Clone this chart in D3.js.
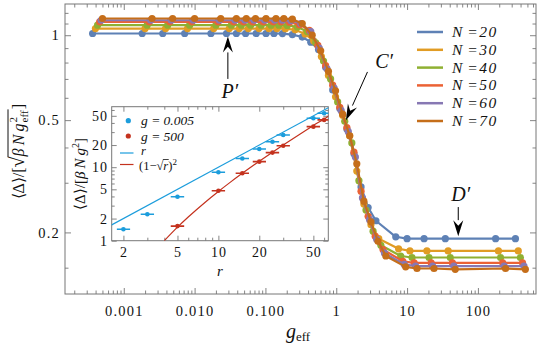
<!DOCTYPE html>
<html><head><meta charset="utf-8">
<script src="https://cdn.jsdelivr.net/npm/d3@7"></script>
<style>body{margin:0;background:#fff}svg{display:block}</style>
</head><body><svg id="c" width="540" height="348"></svg>
<script>
// ---------------- DATA ----------------
const seriesN = [20, 30, 40, 50, 60, 70];
const seriesColors = ["#5E81B5", "#E19C24", "#8FB032", "#EB6235", "#8778B3", "#C56E1A"];

const gEff20 = [0.000363,0.00182,0.00355,0.00724,0.0170,0.0282,0.0389,0.0525,0.0741,0.102,0.132,0.174,0.240,0.331,0.437,0.562,0.708,0.891,1.122,1.413,1.778,2.239,2.818,3.631,6.918,10.0,17.38,34.67,177.8,338.8];
const delta20 = [1.014,1.014,1.014,1.014,1.014,1.014,1.014,1.014,1.014,1.014,1.014,1.013,1.005,0.985,0.945,0.89,0.77,0.64,0.55,0.465,0.38,0.29,0.245,0.22,0.193,0.19,0.19,0.19,0.19,0.19];

const gEff30 = [0.000398,0.00200,0.00389,0.00794,0.0186,0.0309,0.0427,0.0575,0.0813,0.112,0.145,0.191,0.263,0.363,0.479,0.617,0.776,0.977,1.230,1.549,1.950,2.455,3.090,3.981,7.586,10.96,19.05,38.02,195.0,371.5];
const delta30 = [1.056,1.056,1.056,1.056,1.056,1.056,1.056,1.056,1.056,1.056,1.056,1.055,1.045,1.01,0.955,0.84,0.72,0.605,0.52,0.44,0.33,0.252,0.213,0.19,0.175,0.172,0.172,0.172,0.172,0.172];

const gEff40 = [0.000427,0.00214,0.00417,0.00851,0.0200,0.0331,0.0457,0.0617,0.0871,0.120,0.155,0.204,0.282,0.389,0.513,0.661,0.832,1.047,1.318,1.660,2.089,2.630,3.311,4.266,8.128,11.75,20.42,40.74,208.9,398.1];
const delta40 = [1.085,1.085,1.085,1.085,1.085,1.085,1.085,1.085,1.085,1.085,1.085,1.083,1.07,1.03,0.94,0.81,0.70,0.58,0.495,0.415,0.305,0.24,0.202,0.18,0.165,0.163,0.163,0.163,0.163,0.163];

const gEff50 = [0.000457,0.00229,0.00447,0.00912,0.0214,0.0355,0.0490,0.0661,0.0933,0.129,0.166,0.219,0.302,0.417,0.550,0.708,0.891,1.122,1.413,1.778,2.239,2.818,3.548,4.571,8.710,12.59,21.88,43.65,223.9,426.6];
const delta50 = [1.115,1.115,1.115,1.115,1.115,1.115,1.115,1.115,1.115,1.115,1.115,1.112,1.09,1.04,0.92,0.78,0.665,0.555,0.47,0.385,0.28,0.228,0.194,0.174,0.158,0.156,0.156,0.156,0.156,0.156];

const gEff60 = [0.000479,0.00240,0.00468,0.00955,0.0224,0.0372,0.0513,0.0692,0.0977,0.135,0.174,0.229,0.316,0.437,0.575,0.741,0.933,1.175,1.479,1.862,2.344,2.951,3.715,4.786,9.120,13.18,22.91,45.71,234.4,446.7];
const delta60 = [1.13,1.13,1.13,1.13,1.13,1.13,1.13,1.13,1.13,1.13,1.13,1.127,1.10,1.03,0.90,0.76,0.65,0.54,0.455,0.37,0.265,0.222,0.189,0.169,0.154,0.152,0.152,0.152,0.152,0.152];

const gEff70 = [0.000501,0.00251,0.00490,0.0100,0.0234,0.0389,0.0537,0.0724,0.102,0.141,0.182,0.240,0.331,0.457,0.603,0.776,0.977,1.230,1.549,1.950,2.455,3.090,3.890,5.012,9.550,13.80,23.99,47.86,245.5,467.7];
const delta70 = [1.146,1.146,1.146,1.146,1.146,1.146,1.146,1.146,1.146,1.146,1.146,1.14,1.10,1.0,0.88,0.745,0.635,0.525,0.44,0.35,0.258,0.218,0.186,0.165,0.151,0.149,0.149,0.148,0.149,0.148];

const xTickVals = [0.001, 0.01, 0.1, 1, 10, 100];
const xTickLabels = ["0.001", "0.010", "0.100", "1", "10", "100"];
const yTickVals = [0.2, 0.5, 1];
const yTickLabels = ["0.2", "0.5", "1"];
const yMinorVals = [0.15, 0.3, 0.4, 0.6, 0.7, 0.8, 0.9, 1.1, 1.2];

// inset data
const rBlue = [2, 3, 5, 10, 15, 20, 25, 30, 50, 60];
const rBlueLo = [1.79, 2.68, 4.46, 8.93, 13.4, 17.9, 22.3, 26.8, 44.6, 53.6];
const rBlueHi = [2.24, 3.36, 5.6, 11.2, 16.8, 22.4, 28.0, 33.6, 56.0, 67.2];
const deltaBlue = [1.43, 2.29, 3.97, 8.52, 13.1, 17.7, 22.2, 27.4, 46.3, 54.1];
const rRed = [5, 10, 15, 20, 25, 30, 50, 60];
const rRedLo = [4.46, 8.93, 13.4, 17.9, 22.3, 26.8, 44.6, 53.6];
const rRedHi = [5.6, 11.2, 16.8, 22.4, 28.0, 33.6, 56.0, 67.2];
const deltaRed = [1.58, 4.79, 8.26, 11.9, 15.8, 19.6, 35.6, 44.0];
const rLineR = [1.5, 70];
const lineR = [1.5, 70];
const rLineSq = [4, 5, 6, 8, 10, 12, 15, 20, 25, 30, 40, 50, 64, 70];
const lineSq = [1.0, 1.528, 2.101, 3.343, 4.675, 6.072, 8.254, 12.056, 16.0, 20.045, 28.351, 36.858, 49.0, 55.27];
const insetXTicks = [2, 5, 10, 20, 50];
const insetYTicks = [1, 2, 5, 10, 20, 50];
const insetBlue = "#1C9DDC", insetRed = "#C4321E";

// ---------------- LAYOUT ----------------
const svg = d3.select("#c");
const numFont = "Liberation Serif, serif";
const mathFont = "Liberation Serif, serif";
const P = {l: 65, r: 536, t: 4, b: 294};
const x = d3.scaleLog().domain([0.000148, 661]).range([P.l, P.r]);
const y = d3.scaleLog().domain([0.121, 1.29]).range([P.b, P.t]);

function minorDecades(lo, hi) {
  const out = [];
  for (let e = lo; e <= hi; e++) for (let m = 2; m <= 9; m++) out.push(m * Math.pow(10, e));
  return out;
}
function styleAxis(g, fs, ls) {
  g.select(".domain").remove();
  g.selectAll("line").attr("stroke", "#666").attr("stroke-width", 0.8);
  g.attr("font-family", numFont).attr("font-size", fs);
  g.selectAll("text").attr("fill", "#111").attr("letter-spacing", ls);
}
function drawAxes(xs, ys, box, xMaj, xLab, xMin, yMaj, yLab, yMin, majLen, minLen, fs, ls, xPad, yPad) {
  const W = box.r - box.l, H = box.b - box.t;
  let g;
  g = svg.append("g").attr("transform", `translate(0,${box.b})`).call(d3.axisBottom(xs).tickValues(xMaj).tickSize(-majLen).tickPadding(xPad).tickFormat((d, i) => xLab ? xLab[i] : "")); styleAxis(g, fs, ls);
  g = svg.append("g").attr("transform", `translate(0,${box.b})`).call(d3.axisBottom(xs).tickValues(xMin).tickSize(-minLen).tickFormat("")); styleAxis(g, fs, ls);
  g = svg.append("g").attr("transform", `translate(0,${box.t})`).call(d3.axisTop(xs).tickValues(xMaj).tickSize(-majLen).tickFormat("")); styleAxis(g, fs, ls);
  g = svg.append("g").attr("transform", `translate(0,${box.t})`).call(d3.axisTop(xs).tickValues(xMin).tickSize(-minLen).tickFormat("")); styleAxis(g, fs, ls);
  g = svg.append("g").attr("transform", `translate(${box.l},0)`).call(d3.axisLeft(ys).tickValues(yMaj).tickSize(-majLen).tickPadding(yPad).tickFormat((d, i) => yLab ? yLab[i] : "")); styleAxis(g, fs, ls);
  g = svg.append("g").attr("transform", `translate(${box.l},0)`).call(d3.axisLeft(ys).tickValues(yMin).tickSize(-minLen).tickFormat("")); styleAxis(g, fs, ls);
  g = svg.append("g").attr("transform", `translate(${box.r},0)`).call(d3.axisRight(ys).tickValues(yMaj).tickSize(-majLen).tickFormat("")); styleAxis(g, fs, ls);
  g = svg.append("g").attr("transform", `translate(${box.r},0)`).call(d3.axisRight(ys).tickValues(yMin).tickSize(-minLen).tickFormat("")); styleAxis(g, fs, ls);
  svg.append("rect").attr("x", box.l).attr("y", box.t).attr("width", W).attr("height", H)
    .attr("fill", "none").attr("stroke", "#777").attr("stroke-width", 1);
}

svg.append("clipPath").attr("id", "mainclip").append("rect")
  .attr("x", P.l).attr("y", P.t).attr("width", P.r - P.l).attr("height", P.b - P.t);

const xMinorMain = minorDecades(-4, 2).filter(v => v > x.domain()[0] && v < x.domain()[1]);
drawAxes(x, y, P, xTickVals, xTickLabels, xMinorMain, yTickVals, yTickLabels, yMinorVals, 6, 3.5, 14.5, 1.2, 12, 5);

// curves
const allG = [gEff20, gEff30, gEff40, gEff50, gEff60, gEff70];
const allD = [delta20, delta30, delta40, delta50, delta60, delta70];
const line = d3.line().x(d => x(d[0])).y(d => y(d[1]));
const curves = svg.append("g").attr("clip-path", "url(#mainclip)");
seriesN.forEach((n, i) => {
  const pts = allG[i].map((g, k) => [g, allD[i][k]]);
  const c = seriesColors[i];
  const gg = curves.append("g");
  gg.append("path").datum(pts).attr("d", line).attr("fill", "none").attr("stroke", c).attr("stroke-width", 2.2).attr("stroke-linejoin", "round");
  gg.selectAll("circle").data(pts).join("circle").attr("cx", d => x(d[0])).attr("cy", d => y(d[1])).attr("r", 3.6).attr("fill", c);
});

// legend
const legX0 = 417, legX1 = 443, legY0 = 32, legDy = 17.8;
seriesN.forEach((n, i) => {
  const yy = legY0 + i * legDy;
  svg.append("line").attr("x1", legX0).attr("x2", legX1).attr("y1", yy).attr("y2", yy).attr("stroke", seriesColors[i]).attr("stroke-width", 2.5);
  const t = svg.append("text").attr("x", 452).attr("y", yy + 5).attr("font-family", mathFont).attr("font-size", 15.5).attr("font-style", "italic").attr("fill", "#111");
  t.append("tspan").text("N");
  t.append("tspan").attr("dx", 5).text("=");
  t.append("tspan").attr("dx", 1.5).attr("letter-spacing", 1.5).text(String(n));
});

// annotations (anchored in data coords)
function arrow(x0, y0, x1, y1) {
  const ang = Math.atan2(y1 - y0, x1 - x0), L = 16, Wd = 5;
  const bx = x1 - L * Math.cos(ang), by = y1 - L * Math.sin(ang);
  svg.append("line").attr("x1", x0).attr("y1", y0).attr("x2", bx).attr("y2", by).attr("stroke", "#000").attr("stroke-width", 1);
  const px = -Math.sin(ang) * Wd, py = Math.cos(ang) * Wd;
  svg.append("path").attr("d", `M${x1},${y1}L${bx + px},${by + py}L${bx + 0.35 * L * Math.cos(ang)},${by + 0.35 * L * Math.sin(ang)}L${bx - px},${by - py}Z`).attr("fill", "#000");
}
function label(txt, xx, yy) {
  svg.append("text").attr("x", xx).attr("y", yy).attr("text-anchor", "middle").attr("font-family", mathFont).attr("font-size", 20).attr("font-style", "italic").attr("fill", "#111").text(txt);
}
arrow(x(0.0295), y(0.70), x(0.0295), y(0.99));
label("P\u2032", x(0.0295) + 2, y(0.598));
arrow(x(2.76), y(0.741), x(1.37), y(0.5));
label("C\u2032", x(4.74), y(0.764));
arrow(x(52.8), y(0.246), x(52.8), y(0.194));
label("D\u2032", x(57), y(0.258));

// axis labels
const xl = svg.append("text").attr("x", 298).attr("y", 338).attr("text-anchor", "middle").attr("font-family", mathFont).attr("font-size", 20).attr("fill", "#111");
xl.append("tspan").attr("font-style", "italic").text("g");
xl.append("tspan").attr("font-size", 13).attr("dy", 3).text("eff");

// y label main
(function () {
  const g = svg.append("g").attr("transform", "translate(24,150) rotate(-90)");
  const t = g.append("text").attr("font-family", mathFont).attr("font-size", 16).attr("fill", "#111");
  t.append("tspan").text("\u27E8\u0394\u27E9/[");
  t.append("tspan").attr("font-size", 20).text("\u221A");
  t.append("tspan").attr("font-style", "italic").text("\u03B2\u2009N\u2009g");
  t.append("tspan").attr("font-size", 11).attr("dy", -7).attr("dx", 1).text("2");
  t.append("tspan").attr("font-size", 11).attr("dy", 11).attr("dx", -5.5).text("eff");
  t.append("tspan").attr("dy", -4).attr("dx", 1).text("]");
  const len = t.node().getComputedTextLength();
  t.attr("x", -len / 2);
  const n = t.node();
  const sx = n.getEndPositionOfChar(5).x;
  const ex = Math.max(n.getEndPositionOfChar(11).x, n.getEndPositionOfChar(14).x) + 1;
  g.append("line").attr("x1", sx - 0.8).attr("x2", ex).attr("y1", -16).attr("y2", -16).attr("stroke", "#111").attr("stroke-width", 1);
})();

// ---------------- INSET ----------------
const I = {l: 111.7, r: 328.3, t: 106.7, b: 240.7};
svg.append("rect").attr("x", I.l).attr("y", I.t).attr("width", I.r - I.l).attr("height", I.b - I.t).attr("fill", "#fff");
const xi = d3.scaleLog().domain([1.64, 64.4]).range([I.l, I.r]);
const yi = d3.scaleLog().domain([1, 66.5]).range([I.b, I.t]);
svg.append("clipPath").attr("id", "insclip").append("rect").attr("x", I.l).attr("y", I.t).attr("width", I.r - I.l).attr("height", I.b - I.t);
const ixMinor = [3, 4, 6, 7, 8, 9, 30, 40, 60];
const iyMinor = [3, 4, 6, 7, 8, 9, 30, 40, 60];
drawAxes(xi, yi, I, insetXTicks, insetXTicks.map(String), ixMinor, insetYTicks, insetYTicks.map(String), iyMinor, 5, 3, 14, 0.8, 6, 4);

const ig = svg.append("g").attr("clip-path", "url(#insclip)");
const iline = d3.line().x(d => xi(d[0])).y(d => yi(d[1]));
ig.append("path").datum(rLineR.map((r, k) => [r, lineR[k]])).attr("d", iline).attr("fill", "none").attr("stroke", insetBlue).attr("stroke-width", 1.2);
ig.append("path").datum(rLineSq.map((r, k) => [r, lineSq[k]])).attr("d", iline.curve(d3.curveMonotoneX)).attr("fill", "none").attr("stroke", insetRed).attr("stroke-width", 1.2);
function errPts(rs, lo, hi, ds, col) {
  rs.forEach((r, k) => {
    ig.append("line").attr("x1", xi(lo[k])).attr("x2", xi(hi[k])).attr("y1", yi(ds[k])).attr("y2", yi(ds[k])).attr("stroke", col).attr("stroke-width", 1.6);
    ig.append("circle").attr("cx", xi(r)).attr("cy", yi(ds[k])).attr("r", 2.3).attr("fill", col);
  });
}
errPts(rBlue, rBlueLo, rBlueHi, deltaBlue, insetBlue);
errPts(rRed, rRedLo, rRedHi, deltaRed, insetRed);

// inset legend
function legText(xx, yy, fs) {
  return svg.append("text").attr("x", xx).attr("y", yy).attr("font-family", mathFont).attr("font-size", fs).attr("font-style", "italic").attr("fill", "#111");
}
svg.append("circle").attr("cx", 128.3).attr("cy", 120.7).attr("r", 2.6).attr("fill", insetBlue);
legText(141, 125, 13.5).text("g = 0.005");
svg.append("circle").attr("cx", 128.3).attr("cy", 136).attr("r", 2.6).attr("fill", insetRed);
legText(141, 140.5, 13.5).text("g = 500");
svg.append("line").attr("x1", 120).attr("x2", 133.5).attr("y1", 153).attr("y2", 153).attr("stroke", insetBlue).attr("stroke-width", 1.2);
legText(141, 155, 12.5).text("r");
svg.append("line").attr("x1", 120).attr("x2", 133.5).attr("y1", 164.5).attr("y2", 164.5).attr("stroke", insetRed).attr("stroke-width", 1.2);
(function () {
  const by = 169.5;
  const t = legText(139, by, 12.5).attr("font-style", null);
  t.append("tspan").text("(1\u2212");
  t.append("tspan").text("\u221A");
  t.append("tspan").attr("font-style", "italic").text("r");
  t.append("tspan").text(")");
  t.append("tspan").attr("font-size", 9).attr("dy", -5).text("2");
  const n = t.node();
  const sx = n.getEndPositionOfChar(3).x, ex = n.getEndPositionOfChar(4).x;
  svg.append("line").attr("x1", sx - 0.5).attr("x2", ex + 0.5).attr("y1", by - 10).attr("y2", by - 10).attr("stroke", "#111").attr("stroke-width", 0.8);
})();

// inset axis labels
svg.append("text").attr("x", 220).attr("y", 276).attr("text-anchor", "middle").attr("font-family", mathFont).attr("font-size", 15).attr("font-style", "italic").attr("fill", "#111").text("r");
(function () {
  const g = svg.append("g").attr("transform", "translate(85,174) rotate(-90)");
  const t = g.append("text").attr("font-family", mathFont).attr("font-size", 15).attr("fill", "#111").attr("text-anchor", "middle");
  t.append("tspan").text("\u27E8\u0394\u27E9/[");
  t.append("tspan").attr("font-style", "italic").text("\u03B2\u2009N\u2009g");
  t.append("tspan").attr("font-size", 10).attr("dy", -6).text("2");
  t.append("tspan").attr("dy", 6).text("]");
})();
</script></body></html>
